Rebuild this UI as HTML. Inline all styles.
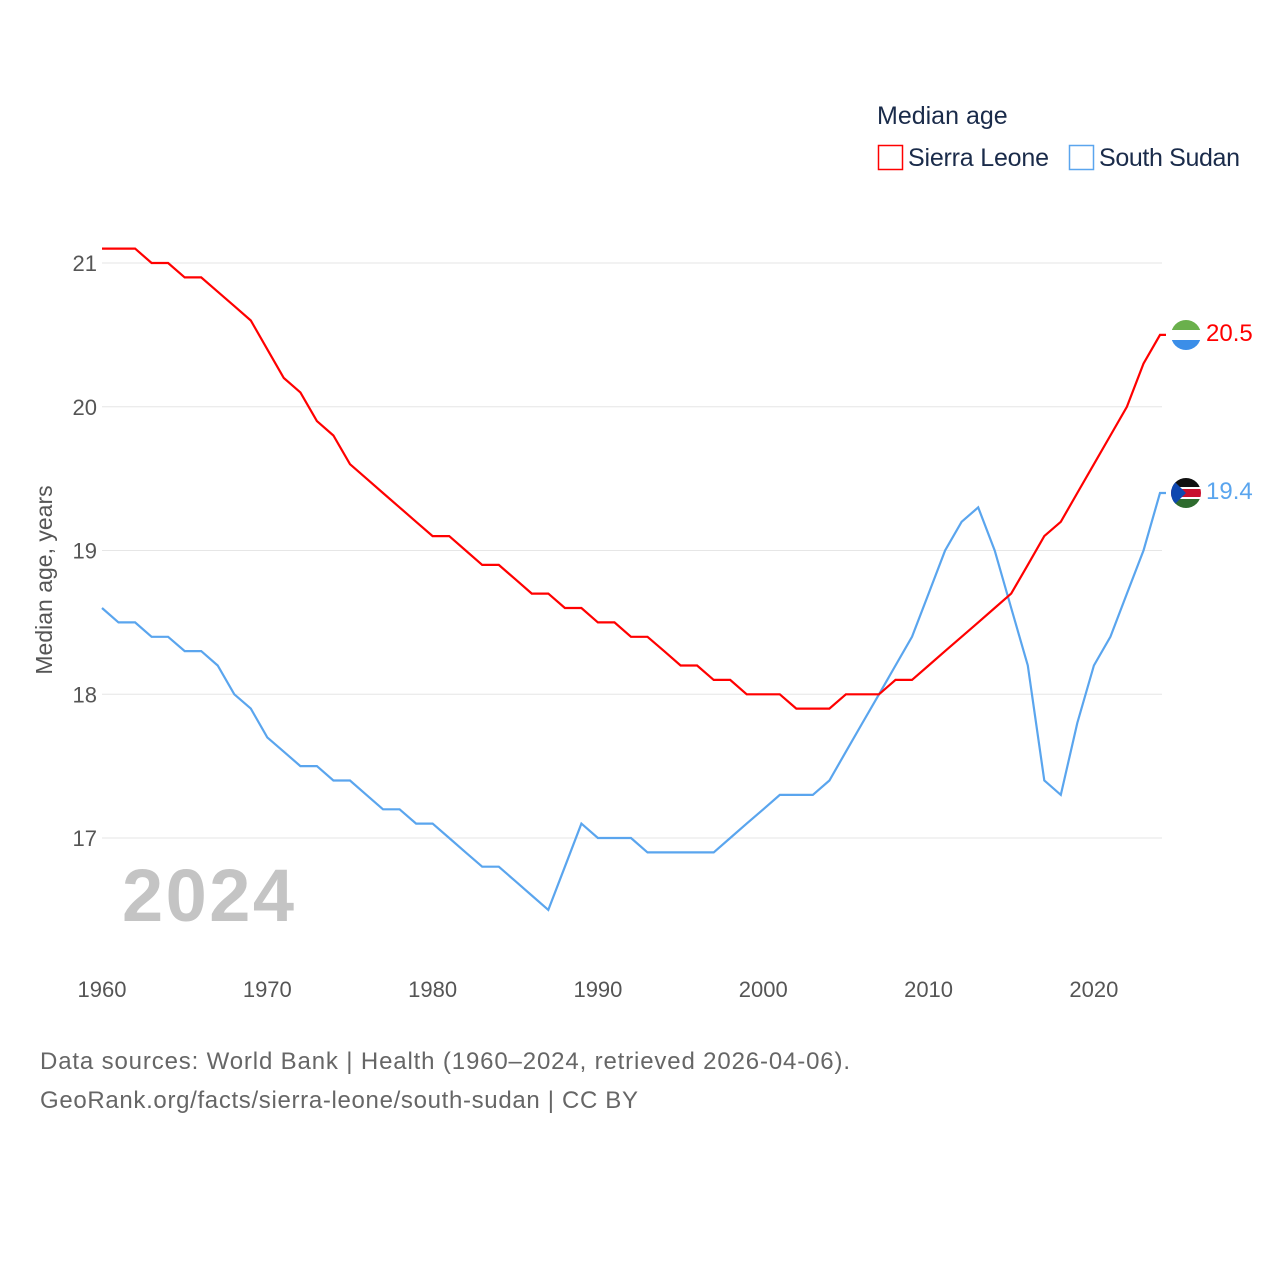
<!DOCTYPE html>
<html><head><meta charset="utf-8"><style>
body{margin:0;background:#fff;font-family:"Liberation Sans",sans-serif}
</style></head><body>
<svg id="chart" width="1280" height="1280" xmlns="http://www.w3.org/2000/svg" font-family="Liberation Sans, sans-serif">
<text x="877" y="124" font-size="25" fill="#1a2b4a">Median age</text>
<g><rect x="878.5" y="145.5" width="24" height="24" fill="none" stroke="#f00" stroke-width="1.5"/><text x="908" y="166" font-size="25" fill="#1a2b4a" textLength="141">Sierra Leone</text></g>
<g><rect x="1069.5" y="145.5" width="24" height="24" fill="none" stroke="#5aa5ee" stroke-width="1.5"/><text x="1099" y="166" font-size="25" fill="#1a2b4a" textLength="141">South Sudan</text></g>
<g id="grid"></g><g id="xt"></g><g id="lines"></g>
<text x="52" y="580" font-size="23" fill="#555" transform="rotate(-90 52 580)" text-anchor="middle">Median age, years</text>
<text x="122" y="921" font-size="74" font-weight="bold" fill="#c4c4c4" textLength="172">2024</text>
<text x="40" y="1069" font-size="24" fill="#666" textLength="810">Data sources: World Bank | Health (1960–2024, retrieved 2026-04-06).</text>
<text x="40" y="1108" font-size="24" fill="#666" textLength="598">GeoRank.org/facts/sierra-leone/south-sudan | CC BY</text>
<g><clipPath id="c1"><circle cx="1186" cy="335" r="15"/></clipPath><g clip-path="url(#c1)"><rect x="1170" y="319" width="32" height="11" fill="#6ab04c"/><rect x="1170" y="330" width="32" height="10" fill="#fff"/><rect x="1170" y="340" width="32" height="11" fill="#3b8ee8"/></g></g>
<g><clipPath id="c2"><circle cx="1186" cy="493" r="15"/></clipPath><g clip-path="url(#c2)"><rect x="1170" y="477" width="32" height="10" fill="#111"/><rect x="1170" y="487" width="32" height="12" fill="#fff"/><rect x="1170" y="489" width="32" height="8" fill="#c8102e"/><rect x="1170" y="499" width="32" height="10" fill="#2e6b2e"/><polygon points="1170,477 1186,493 1170,509" fill="#0f47af"/></g></g>
<text x="1206" y="341" font-size="24" fill="#f00">20.5</text>
<text x="1206" y="499" font-size="24" fill="#5aa5ee">19.4</text>
</svg>
<script>
const years=[];for(let y=1960;y<=2024;y++)years.push(y);
const sierraLeone=[21.1,21.1,21.1,21.0,21.0,20.9,20.9,20.8,20.7,20.6,20.4,20.2,20.1,19.9,19.8,19.6,19.5,19.4,19.3,19.2,19.1,19.1,19.0,18.9,18.9,18.8,18.7,18.7,18.6,18.6,18.5,18.5,18.4,18.4,18.3,18.2,18.2,18.1,18.1,18.0,18.0,18.0,17.9,17.9,17.9,18.0,18.0,18.0,18.1,18.1,18.2,18.3,18.4,18.5,18.6,18.7,18.9,19.1,19.2,19.4,19.6,19.8,20.0,20.3,20.5];
const southSudan=[18.6,18.5,18.5,18.4,18.4,18.3,18.3,18.2,18.0,17.9,17.7,17.6,17.5,17.5,17.4,17.4,17.3,17.2,17.2,17.1,17.1,17.0,16.9,16.8,16.8,16.7,16.6,16.5,16.8,17.1,17.0,17.0,17.0,16.9,16.9,16.9,16.9,16.9,17.0,17.1,17.2,17.3,17.3,17.3,17.4,17.6,17.8,18.0,18.2,18.4,18.7,19.0,19.2,19.3,19.0,18.6,18.2,17.4,17.3,17.8,18.2,18.4,18.7,19.0,19.4];
const yTicks=[17,18,19,20,21];
const xTicks=[1960,1970,1980,1990,2000,2010,2020];
const X=y=>102+(y-1960)*(1058/64);
const Y=v=>838-(v-17)*143.75;
const NS="http://www.w3.org/2000/svg";
const grid=document.getElementById('grid'),xt=document.getElementById('xt'),lines=document.getElementById('lines');
yTicks.forEach(t=>{
 const l=document.createElementNS(NS,'line');
 l.setAttribute('x1',102);l.setAttribute('x2',1162);l.setAttribute('y1',Y(t));l.setAttribute('y2',Y(t));l.setAttribute('stroke','#e6e6e6');
 
 
 grid.appendChild(l);
 const tx=document.createElementNS(NS,'text');
 tx.setAttribute('x',97);tx.setAttribute('y',Y(t)+8);tx.setAttribute('text-anchor','end');tx.setAttribute('font-size','22');tx.setAttribute('fill','#555');tx.textContent=t;
 
 
 grid.appendChild(tx);
});
xTicks.forEach(t=>{
 const tx=document.createElementNS(NS,'text');
 tx.setAttribute('x',X(t));tx.setAttribute('y',997);tx.setAttribute('text-anchor','middle');tx.setAttribute('font-size','22');tx.setAttribute('fill','#555');tx.textContent=t;
 
 
 xt.appendChild(tx);
});
function draw(vals,color,name){
 const p=document.createElementNS(NS,'path');
 let d=vals.map((v,i)=>(i?'L':'M')+X(years[i]).toFixed(1)+','+Y(v).toFixed(1)).join('');
 d+='h6';
 p.setAttribute('d',d);
 p.setAttribute('fill','none');p.setAttribute('stroke',color);p.setAttribute('stroke-width','2.2');
 
 
 lines.appendChild(p);
}
draw(southSudan,'#5aa5ee','line-south-sudan');
draw(sierraLeone,'#f00','line-sierra-leone');
</script>
</body></html>
